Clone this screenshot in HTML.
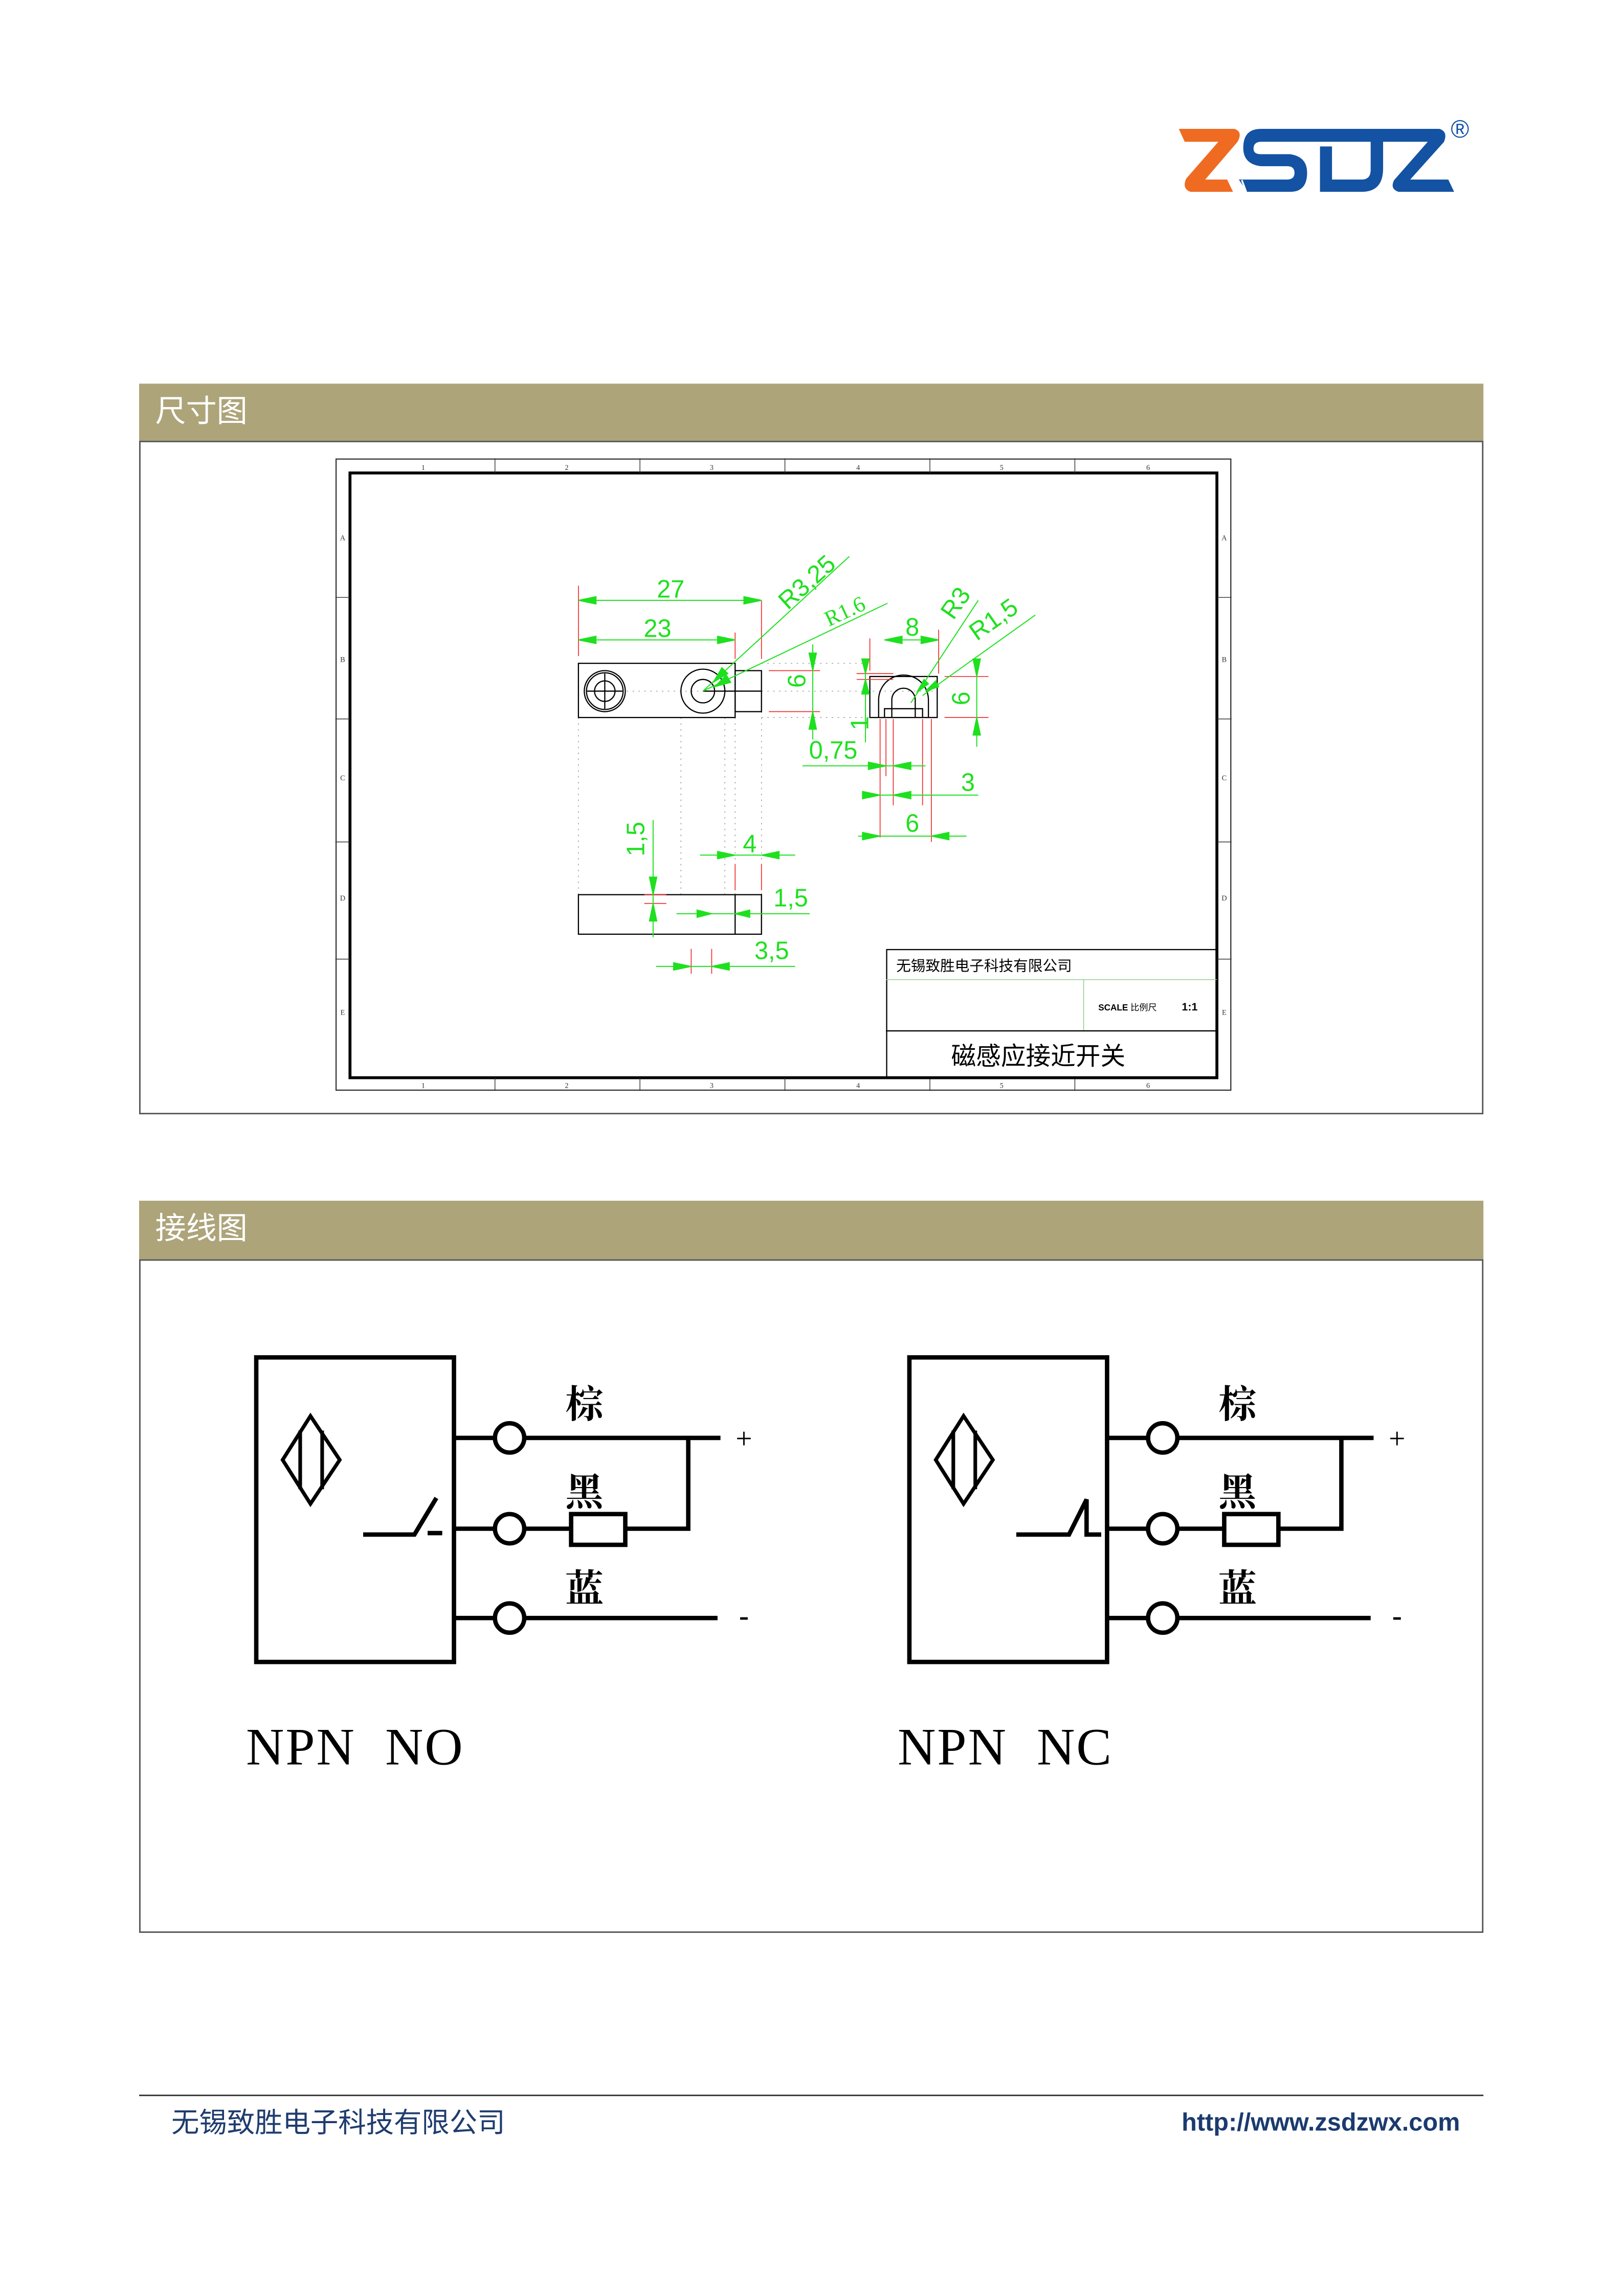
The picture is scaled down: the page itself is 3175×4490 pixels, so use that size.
<!DOCTYPE html>
<html><head><meta charset="utf-8"><style>
html,body{margin:0;padding:0;background:#fff;}
svg{display:block;}
.cn{font-family:"Liberation Sans","Noto Sans CJK SC",sans-serif;}
.g{fill:#1fe01f;font-family:"Liberation Sans",sans-serif;}
</style></head><body>
<svg width="3175" height="4490" viewBox="0 0 1109 1568" preserveAspectRatio="none" xmlns="http://www.w3.org/2000/svg">
<rect width="1109" height="1568" fill="#fff"/>
<!-- logo -->
<g>
<path d="M805,88 L843,88 Q849,90 845,97 L823,122.6 L838,122.6 L842,131 L813,131 Q807,129 810,122 L832,96.8 L809,96.8 Z" fill="#ef6b22"/>
<path d="M861,88 L983,88 Q989,90 986,97 L963,122.6 L989,122.6 L993,131 L955,131 Q949,129 952,123 L975,96.8 L944.5,96.8 L944.5,115 Q944.5,131 930,131 L901.4,131 L901.4,100 L909.6,100 L909.6,122.6 L930,122.6 Q936,122.6 936,116 L936,96.8 L861,96.8 Q856,97 856,101.5 Q856,105.3 861,105.3 L881,105.3 Q892.6,107 892.6,118 Q892.6,131 881,131 L851.5,131 L846,122.6 L879,122.6 Q884,122.6 884,118 Q884,113.5 879,113.5 L861,113.5 Q849,112 849,101 Q849,88 861,88 Z" fill="#1452a3"/>
<g stroke="#fff" stroke-width="1.2"><line x1="840" y1="123" x2="843" y2="131"/><line x1="844" y1="123" x2="847" y2="131"/><line x1="848" y1="123" x2="851" y2="131"/></g>
<text x="997" y="94" font-size="17" fill="#1452a3" font-family="Liberation Sans,sans-serif" text-anchor="middle">®</text>
</g>
<!-- section 1 -->
<rect x="95" y="262" width="918" height="39" fill="#ada47a"/>
<text x="106" y="288" font-size="21" fill="#fff" class="cn">尺寸图</text>
<rect x="95.5" y="301.5" width="917" height="459" fill="none" stroke="#555" stroke-width="1"/>
<!-- drawing frame -->
<rect x="229.5" y="313.5" width="611" height="431" fill="none" stroke="#333" stroke-width="0.8"/>
<rect x="239" y="323" width="592" height="413" fill="none" stroke="#000" stroke-width="2"/>
<g stroke="#333" stroke-width="0.5">
<line x1="338" y1="313" x2="338" y2="323"/><line x1="437" y1="313" x2="437" y2="323"/><line x1="536" y1="313" x2="536" y2="323"/><line x1="635" y1="313" x2="635" y2="323"/><line x1="734" y1="313" x2="734" y2="323"/>
<line x1="338" y1="736" x2="338" y2="745"/><line x1="437" y1="736" x2="437" y2="745"/><line x1="536" y1="736" x2="536" y2="745"/><line x1="635" y1="736" x2="635" y2="745"/><line x1="734" y1="736" x2="734" y2="745"/>
<line x1="229" y1="408" x2="239" y2="408"/><line x1="229" y1="491" x2="239" y2="491"/><line x1="229" y1="575" x2="239" y2="575"/><line x1="229" y1="655" x2="239" y2="655"/>
<line x1="831" y1="408" x2="841" y2="408"/><line x1="831" y1="491" x2="841" y2="491"/><line x1="831" y1="575" x2="841" y2="575"/><line x1="831" y1="655" x2="841" y2="655"/>
</g>
<g font-size="5" fill="#333" font-family="Liberation Serif,serif" text-anchor="middle">
<text x="289" y="321">1</text><text x="387" y="321">2</text><text x="486" y="321">3</text><text x="586" y="321">4</text><text x="684" y="321">5</text><text x="784" y="321">6</text>
<text x="289" y="743">1</text><text x="387" y="743">2</text><text x="486" y="743">3</text><text x="586" y="743">4</text><text x="684" y="743">5</text><text x="784" y="743">6</text>
<text x="234" y="369">A</text><text x="234" y="452">B</text><text x="234" y="533">C</text><text x="234" y="615">D</text><text x="234" y="693">E</text>
<text x="836" y="369">A</text><text x="836" y="452">B</text><text x="836" y="533">C</text><text x="836" y="615">D</text><text x="836" y="693">E</text>
</g>
<g stroke="#999" stroke-width="0.5" stroke-dasharray="1,3" fill="none">
<line x1="395" y1="490" x2="395" y2="611"/><line x1="465" y1="490" x2="465" y2="611"/><line x1="495" y1="490" x2="495" y2="611"/><line x1="502" y1="490" x2="502" y2="611"/><line x1="520" y1="486" x2="520" y2="611"/>
<line x1="520" y1="453" x2="594" y2="453"/><line x1="520" y1="490" x2="594" y2="490"/><line x1="400" y1="472" x2="640" y2="472"/>
</g>
<g stroke="#000" stroke-width="0.8" fill="none">
<rect x="395" y="453" width="107" height="37"/>
<rect x="502" y="458" width="18" height="28"/>
<line x1="480" y1="472" x2="520" y2="472"/>
<circle cx="480" cy="472" r="15"/><circle cx="480" cy="472" r="8"/>
<circle cx="413" cy="472" r="14"/><circle cx="413" cy="472" r="12.5"/><circle cx="413" cy="472" r="7"/>
<line x1="401" y1="472" x2="425" y2="472"/><line x1="413" y1="460" x2="413" y2="484"/>
<rect x="594" y="462" width="46" height="28"/>
<path d="M600,490 L600,478 A17,17 0 0 1 634,478 L634,490"/>
<path d="M609,490 L609,478 A8,8 0 0 1 625,478 L625,490"/>
<path d="M604,490 L604,484 L630,484 L630,490"/>
<rect x="395" y="611" width="125" height="27"/>
<line x1="502" y1="611" x2="502" y2="638"/>
</g>
<g stroke="#f03030" stroke-width="0.6">
<line x1="395" y1="400" x2="395" y2="448"/><line x1="520" y1="410" x2="520" y2="450"/><line x1="502" y1="432" x2="502" y2="450"/>
<line x1="525" y1="458" x2="560" y2="458"/><line x1="525" y1="486" x2="560" y2="486"/>
<line x1="594" y1="436" x2="594" y2="458"/><line x1="641" y1="430" x2="641" y2="460"/>
<line x1="645" y1="462" x2="675" y2="462"/><line x1="645" y1="490" x2="675" y2="490"/>
<line x1="585" y1="460" x2="610" y2="460"/><line x1="585" y1="464" x2="610" y2="464"/>
<line x1="601" y1="491" x2="601" y2="572"/><line x1="605" y1="491" x2="605" y2="530"/><line x1="610" y1="491" x2="610" y2="550"/><line x1="630" y1="491" x2="630" y2="550"/><line x1="636" y1="491" x2="636" y2="575"/>
<line x1="502" y1="590" x2="502" y2="608"/><line x1="520" y1="590" x2="520" y2="608"/>
<line x1="440" y1="611" x2="455" y2="611"/><line x1="440" y1="617" x2="455" y2="617"/>
<line x1="472" y1="648" x2="472" y2="665"/><line x1="486" y1="648" x2="486" y2="665"/>
</g>
<g stroke="#1fe01f" stroke-width="0.7" fill="#1fe01f">
<line x1="395" y1="410" x2="520" y2="410"/><line x1="395" y1="437" x2="502" y2="437"/>
<line x1="480" y1="472" x2="580" y2="380"/><line x1="480" y1="472" x2="606" y2="412"/>
<line x1="555" y1="440" x2="555" y2="505"/>
<line x1="604" y1="437" x2="641" y2="437"/>
<line x1="622" y1="480" x2="668" y2="410"/><line x1="630" y1="475" x2="707" y2="420"/>
<line x1="667" y1="455" x2="667" y2="510"/>
<line x1="591" y1="455" x2="591" y2="507"/>
<line x1="548" y1="523" x2="632" y2="523"/>
<line x1="595" y1="543" x2="668" y2="543"/>
<line x1="586" y1="571" x2="660" y2="571"/>
<line x1="446" y1="560" x2="446" y2="640"/>
<line x1="478" y1="584" x2="543" y2="584"/>
<line x1="462" y1="624" x2="553" y2="624"/>
<line x1="448" y1="660" x2="543" y2="660"/>
<path d="M395,410 l12,-2.5 v5z M520,410 l-12,-2.5 v5z M395,437 l12,-2.5 v5z M502,437 l-12,-2.5 v5z"/>
<path d="M555,458 l-2.5,-12 h5z M555,486 l-2.5,12 h5z M667,462 l-2.5,-12 h5z M667,490 l-2.5,12 h5z"/>
<path d="M604,437 l12,-2.5 v5z M641,437 l-12,-2.5 v5z"/>
<path d="M591,460 l-2.5,-10 h5z M591,464 l-2.5,10 h5z"/>
<path d="M605,523 l-12,-2.5 v5z M610,523 l12,-2.5 v5z M601,543 l-12,-2.5 v5z M610,543 l12,-2.5 v5z M601,571 l-12,-2.5 v5z M636,571 l12,-2.5 v5z"/>
<path d="M446,611 l-2.5,-12 h5z M446,617 l-2.5,12 h5z M502,584 l-12,-2.5 v5z M520,584 l12,-2.5 v5z M486,624 l-10,-2.5 v5z M502,624 l10,-2.5 v5z M472,660 l-12,-2.5 v5z M486,660 l12,-2.5 v5z"/>
<path d="M487,466 l6,-10 l4,4z M488,469 l8,-8 l3,5z M626,473 l5,-9 l3,3z M632,472 l7,-7 l2,4z"/>
</g>
<g class="g" font-size="17">
<text x="458" y="408" text-anchor="middle">27</text>
<text x="449" y="435" text-anchor="middle">23</text>
<text transform="translate(538,417) rotate(-42)">R3,25</text>
<text transform="translate(566,428) rotate(-25)" font-family="Liberation Serif,serif" font-size="15">R1.6</text>
<text transform="translate(550,465) rotate(-90)" text-anchor="middle">6</text>
<text x="623" y="434" text-anchor="middle">8</text>
<text transform="translate(651,424) rotate(-55)">R3</text>
<text transform="translate(667,438) rotate(-35)">R1,5</text>
<text transform="translate(662,477) rotate(-90)" text-anchor="middle">6</text>
<text transform="translate(593,494) rotate(-90)" text-anchor="middle">1</text>
<text x="569" y="518" text-anchor="middle">0,75</text>
<text x="661" y="540" text-anchor="middle">3</text>
<text x="623" y="568" text-anchor="middle">6</text>
<text transform="translate(440,573) rotate(-90)" text-anchor="middle">1,5</text>
<text x="512" y="582" text-anchor="middle">4</text>
<text x="540" y="619" text-anchor="middle">1,5</text>
<text x="527" y="655" text-anchor="middle">3,5</text>
</g>
<rect x="605.5" y="648.5" width="225" height="88" fill="none" stroke="#000" stroke-width="0.8"/>
<line x1="605" y1="669" x2="831" y2="669" stroke="#8c8" stroke-width="0.5"/>
<line x1="740" y1="669" x2="740" y2="704" stroke="#8c8" stroke-width="0.5"/>
<line x1="605" y1="704" x2="831" y2="704" stroke="#000" stroke-width="0.8"/>
<text x="612" y="663" font-size="10" class="cn">无锡致胜电子科技有限公司</text>
<text x="750" y="690" font-size="6" class="cn" font-weight="bold">SCALE <tspan font-weight="normal">比例尺</tspan></text>
<text x="807" y="690" font-size="7.5" font-family="Liberation Sans,sans-serif" font-weight="bold">1:1</text>
<text x="709" y="727" font-size="17" class="cn" text-anchor="middle">磁感应接近开关</text>
<!-- section 2 -->
<rect x="95" y="820" width="918" height="40" fill="#ada47a"/>
<text x="106" y="846" font-size="21" fill="#fff" class="cn">接线图</text>
<rect x="95.5" y="860.5" width="917" height="459" fill="none" stroke="#555" stroke-width="1"/>
<g id="w" stroke="#000" stroke-width="3" fill="none">
<rect x="175" y="927" width="135" height="208"/>
<path d="M212,967 L232,997 L212,1027 L193,997 Z" stroke-width="2.5"/>
<line x1="205" y1="977" x2="205" y2="1017" stroke-width="2.5"/>
<line x1="220" y1="977" x2="220" y2="1017" stroke-width="2.5"/>
<line x1="310" y1="982" x2="338" y2="982"/><line x1="358" y1="982" x2="492" y2="982"/>
<line x1="310" y1="1044" x2="338" y2="1044"/><line x1="358" y1="1044" x2="390" y2="1044"/>
<rect x="390" y="1034" width="37" height="21"/>
<path d="M427,1044 L470,1044 L470,982"/>
<line x1="310" y1="1105" x2="338" y2="1105"/><line x1="358" y1="1105" x2="490" y2="1105"/>
<circle cx="348" cy="982" r="10"/><circle cx="348" cy="1044" r="10"/><circle cx="348" cy="1105" r="10"/>
</g>
<g stroke="#000" stroke-width="3" fill="none">
<path d="M248,1048 L283,1048 L298,1023"/><line x1="292" y1="1047" x2="302" y2="1047"/>
</g>
<g font-family="Liberation Serif,'Noto Serif CJK SC',serif" font-size="26" font-weight="bold" fill="#000">
<text x="399" y="968" text-anchor="middle">棕</text><text x="399" y="1028" text-anchor="middle">黑</text><text x="399" y="1094" text-anchor="middle">蓝</text>
<text x="508" y="989" text-anchor="middle" font-size="20" font-weight="normal">+</text>
<text x="508" y="1110" text-anchor="middle" font-size="20">-</text>
<text x="168" y="1205" font-size="36" font-weight="normal" letter-spacing="1" xml:space="preserve">NPN  NO</text>
</g>
<use href="#w" transform="translate(446,0)"/>
<g stroke="#000" stroke-width="3" fill="none">
<path d="M694,1048 L730,1048 L742,1024 L742,1048 L752,1048"/>
</g>
<g font-family="Liberation Serif,'Noto Serif CJK SC',serif" font-size="26" font-weight="bold" fill="#000">
<text x="845" y="968" text-anchor="middle">棕</text><text x="845" y="1028" text-anchor="middle">黑</text><text x="845" y="1094" text-anchor="middle">蓝</text>
<text x="954" y="989" text-anchor="middle" font-size="20" font-weight="normal">+</text>
<text x="954" y="1110" text-anchor="middle" font-size="20">-</text>
<text x="613" y="1205" font-size="36" font-weight="normal" letter-spacing="1" xml:space="preserve">NPN  NC</text>
</g>
<line x1="95" y1="1431" x2="1013" y2="1431" stroke="#333" stroke-width="1"/>
<text x="117" y="1456" font-size="19" fill="#1f3c6e" class="cn">无锡致胜电子科技有限公司</text>
<text x="997" y="1455" font-size="17" fill="#1b3b6f" font-weight="bold" font-family="Liberation Sans,sans-serif" text-anchor="end">http://www.zsdzwx.com</text>
</svg>
</body></html>
